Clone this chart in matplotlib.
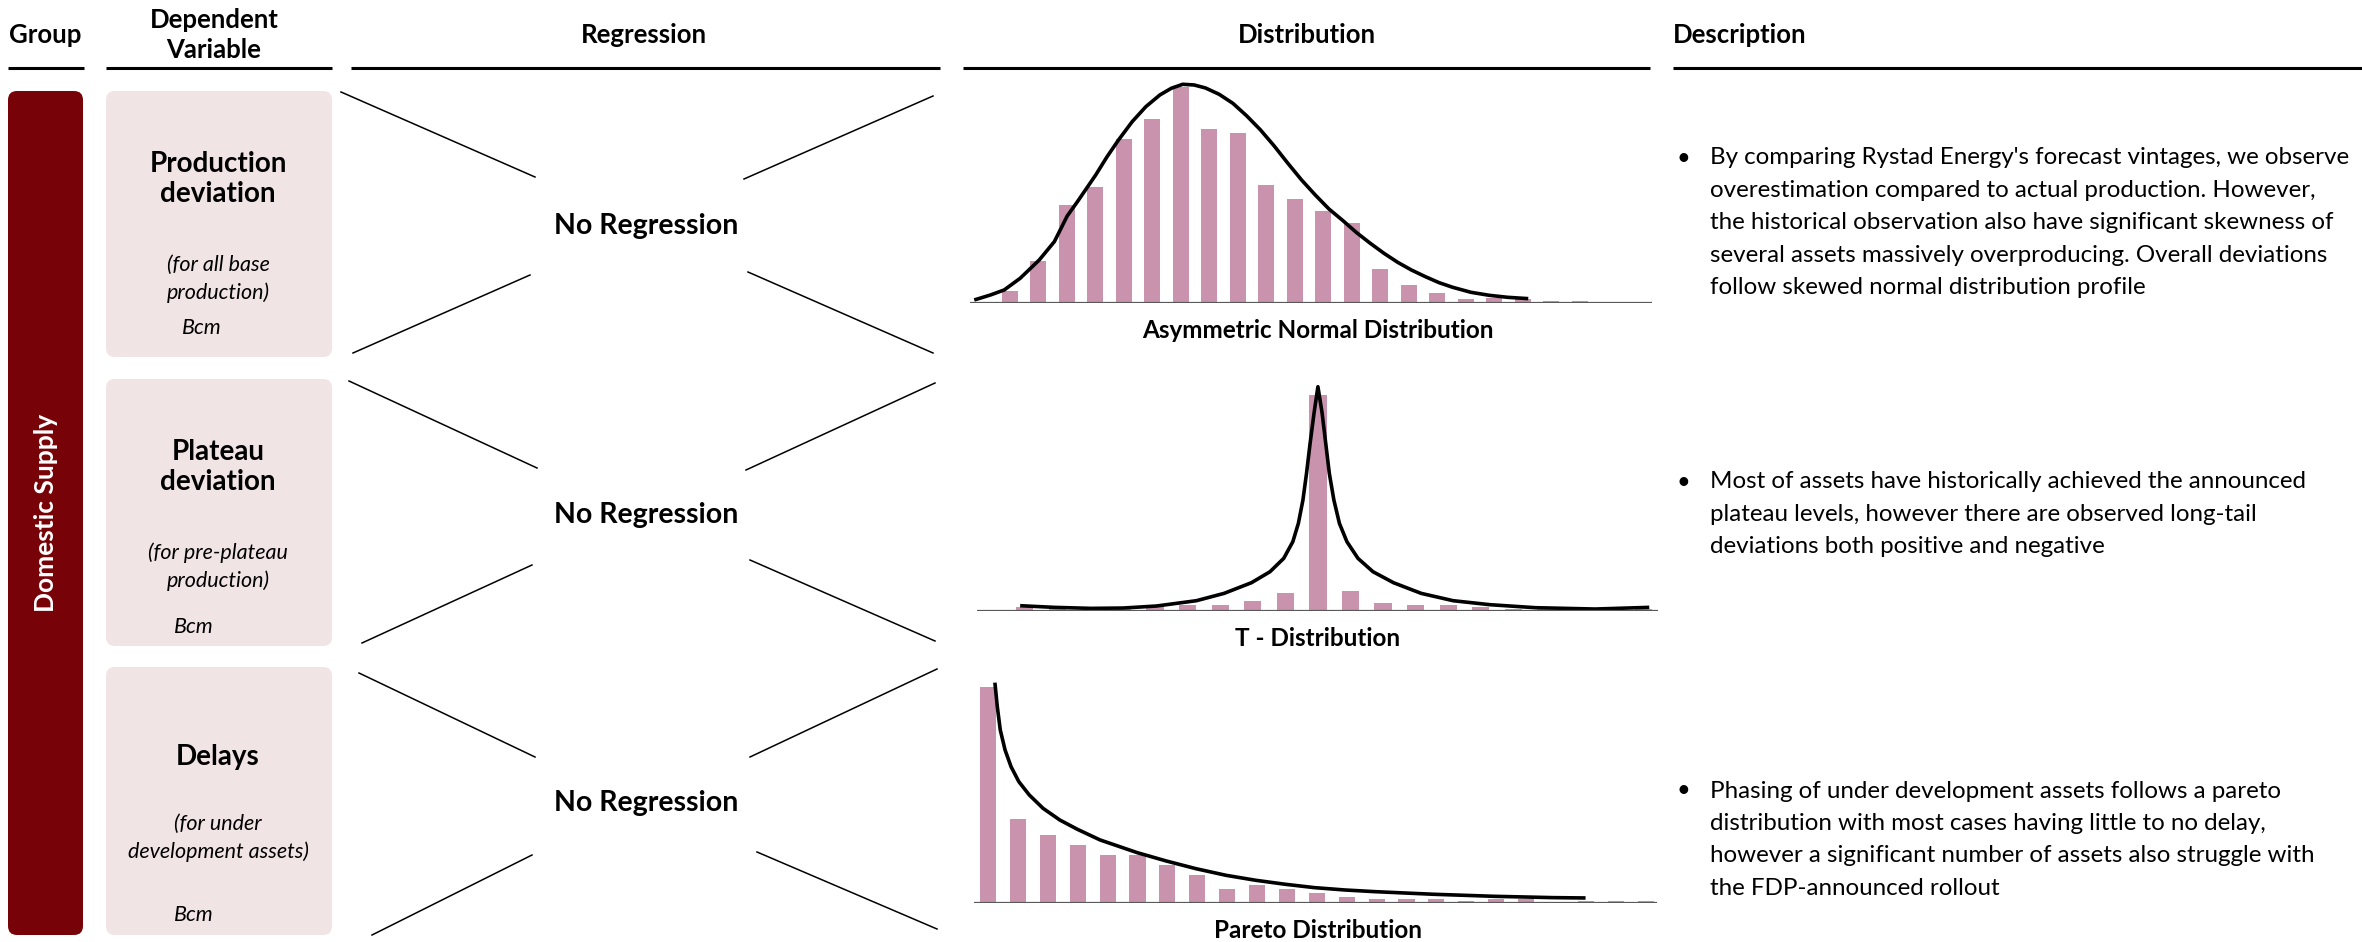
import matplotlib
matplotlib.use("Agg")
import matplotlib.pyplot as plt
from matplotlib.patches import FancyBboxPatch

plt.rcParams['font.family'] = ['Lato', 'DejaVu Sans']

# ---------------- data ----------------
headers = ["Group", "Dependent\nVariable", "Regression", "Distribution", "Description"]
group_label = "Domestic Supply"
row_titles = ["Production\ndeviation", "Plateau\ndeviation", "Delays"]
row_notes = ["(for all base\nproduction)", "(for pre-plateau\nproduction)", "(for under\ndevelopment assets)"]
row_units = ["Bcm", "Bcm", "Bcm"]
regression_labels = ["No Regression", "No Regression", "No Regression"]
dist_labels = ["Asymmetric Normal Distribution", "T - Distribution", "Pareto Distribution"]
desc_row1 = ["By comparing Rystad Energy's forecast vintages, we observe",
             "overestimation compared to actual production. However,",
             "the historical observation also have significant skewness of",
             "several assets massively overproducing. Overall deviations",
             "follow skewed normal distribution profile"]
desc_row2 = ["Most of assets have historically achieved the announced",
             "plateau levels, however there are observed long-tail",
             "deviations both positive and negative"]
desc_row3 = ["Phasing of under development assets follows a pareto",
             "distribution with most cases having little to no delay,",
             "however a significant number of assets also struggle with",
             "the FDP-announced rollout"]

# asymmetric normal: histogram bars and fitted curve (bin index, relative height)
asym_bars = [37, 127, 295, 349, 493, 553, 650, 523, 511, 355, 313, 277, 241, 103, 55, 31, 13, 15, 13, 7, 7]
asym_curve_x = [-1.24, -0.67, -0.19, 0.37, 1.04, 1.57, 2.02, 2.38, 2.70, 3.02, 3.42, 3.82, 4.30, 4.78,
                5.27, 5.67, 6.07, 6.47, 6.87, 7.35, 7.83, 8.32, 8.80, 9.28, 9.76, 10.24, 10.72, 11.20,
                11.69, 12.17, 12.65, 13.13, 13.61, 14.09, 14.58, 15.06, 15.54, 16.18, 16.82, 17.46, 18.19]
asym_curve_y = [10, 25, 40, 75, 130, 185, 262, 305, 345, 385, 440, 490, 545, 590,
                625, 645, 657, 655, 646, 627, 600, 562, 520, 472, 420, 370, 325, 283,
                248, 212, 180, 150, 123, 100, 80, 62, 48, 33, 24, 18, 14]

# t-distribution
t_bars = [11, 7, 7, 7, 17, 17, 17, 29, 53, 647, 59, 23, 17, 17, 11, 5, 7, 5, 5, 5]
t_curve_x = [-0.14, 0.91, 2.04, 3.02, 4.04, 5.27, 6.12, 6.96, 7.53, 7.95, 8.23, 8.40, 8.54, 8.65,
             8.76, 8.88, 9.00, 9.13, 9.24, 9.35, 9.49, 9.66, 9.89, 10.23, 10.69, 11.32, 12.17,
             13.15, 14.28, 15.68, 17.51, 19.17]
t_curve_y = [15, 10, 7, 8, 14, 30, 52, 84, 117, 157, 207, 262, 332, 412,
             502, 592, 672, 592, 502, 412, 332, 262, 207, 157, 117, 84, 52,
             30, 18, 9, 5, 10]

# pareto
pareto_bars = [650, 253, 205, 175, 145, 145, 115, 85, 43, 55, 43, 31, 19, 13, 13, 13, 7, 13, 13, 0, 7, 7, 7]
pareto_curve_x = [0.23, 0.31, 0.41, 0.57, 0.77, 1.03, 1.38, 1.84, 2.40, 2.99, 3.75, 4.99, 5.96, 6.95,
                  7.96, 8.96, 9.95, 10.92, 11.93, 12.93, 13.92, 14.93, 15.93, 16.92, 17.92, 18.91, 19.99]
pareto_curve_y = [662, 590, 520, 460, 410, 365, 325, 285, 250, 222, 190, 152, 127, 104,
                  84, 69, 57, 47, 40, 35, 31, 27, 24, 21, 19, 17, 16]

# ---------------- style / layout ----------------
W, H = 2362, 942
BAR_C = "#C993AE"
BOX_C = "#F1E4E5"
RED_C = "#770308"
AX_C = "#595959"

fig = plt.figure(figsize=(W / 100, H / 100), dpi=100)
ov = fig.add_axes([0, 0, 1, 1])
ov.set_xlim(0, W)
ov.set_ylim(H, 0)
ov.axis("off")

# headers
HS = 18.5
hdr_x = [45, 214, 644, 1307, 1673]
ov.text(hdr_x[0], 35, headers[0], ha="center", va="center", fontsize=HS, fontweight="bold")
ov.text(hdr_x[1], 35, headers[1], ha="center", va="center", fontsize=HS, fontweight="bold", linespacing=1.25)
ov.text(hdr_x[2], 35, headers[2], ha="center", va="center", fontsize=HS, fontweight="bold")
ov.text(hdr_x[3], 35, headers[3], ha="center", va="center", fontsize=HS, fontweight="bold")
ov.text(hdr_x[4], 35, headers[4], ha="left", va="center", fontsize=HS, fontweight="bold")
for x0, x1 in [(8, 84), (106, 332), (351, 940), (963, 1650), (1673, 2362)]:
    ov.plot([x0, x1], [68, 68], color="black", lw=2.2, solid_capstyle="butt")

# group bar
ov.add_patch(FancyBboxPatch((8, 91), 75, 844, boxstyle="round,pad=0,rounding_size=9",
                            fc=RED_C, ec="none"))
ov.text(46, 513, group_label, rotation=90, ha="center", va="center", color="white",
        fontsize=19, fontweight="bold")

row_top = [91, 379, 667]
row_bot = [357, 646, 935]
title_y = [179, 467, 757]
note_y = [279, 567, 838]
unit_y = [328, 627, 915]
reg_y = [226, 515, 803]
for i in range(3):
    ov.add_patch(FancyBboxPatch((106, row_top[i]), 226, row_bot[i] - row_top[i],
                                boxstyle="round,pad=0,rounding_size=9", fc=BOX_C, ec="none"))
    ov.text(218, title_y[i], row_titles[i], ha="center", va="center", fontsize=20,
            fontweight="bold", linespacing=1.2)
    ov.text(218, note_y[i], row_notes[i], ha="center", va="center", fontsize=15.5,
            style="italic", linespacing=1.45)
    ov.text(182 if i == 0 else 174, unit_y[i], row_units[i], ha="left", va="center",
            fontsize=15.5, style="italic")
    ov.text(646, reg_y[i], regression_labels[i], ha="center", va="center", fontsize=20.5,
            fontweight="bold")

# regression cross lines (per row: outer start -> inner end)
cross = [
    [((341, 92), (535, 177)), ((933, 96), (744, 179)), ((353, 353), (530, 275)), ((933, 353), (748, 272))],
    [((349, 381), (537, 468)), ((935, 383), (746, 470)), ((362, 643), (532, 565)), ((935, 641), (750, 560))],
    [((359, 673), (535, 757)), ((937, 669), (750, 757)), ((372, 935), (532, 855)), ((937, 929), (757, 852))],
]
for row in cross:
    for (xa, ya), (xb, yb) in row:
        ov.plot([xa, xb], [ya, yb], color="black", lw=1.1)


def add_dist(bars, cx, cy, width, x0px, x1px, ybase, xlim, label, label_y):
    top = ybase - 700 / 3.0
    ax = fig.add_axes([x0px / W, (H - ybase) / H, (x1px - x0px) / W, (ybase - top) / H])
    ax.patch.set_alpha(0)
    ax.bar(range(len(bars)), bars, width=width, color=BAR_C, zorder=2)
    ax.plot(cx, cy, color="black", lw=2.6, zorder=3, solid_capstyle="butt", solid_joinstyle="round")
    ax.axhline(0, color=AX_C, lw=1.6, zorder=4)
    ax.set_xlim(*xlim)
    ax.set_ylim(0, 700)
    ax.axis("off")
    ov.text(1318, label_y, label, ha="center", va="center", fontsize=17.5, fontweight="bold")


add_dist(asym_bars, asym_curve_x, asym_curve_y, 0.56, 969.8, 1651.7, 303.3, (-1.396, 22.52),
         dist_labels[0], 331)
add_dist(t_bars, t_curve_x, t_curve_y, 0.53, 976.6, 1657.7, 610.7, (-1.477, 19.43),
         dist_labels[1], 638)
add_dist(pareto_bars, pareto_curve_x, pareto_curve_y, 0.54, 974.3, 1657.0, 903.3, (-0.459, 22.38),
         dist_labels[2], 930)

# descriptions
desc_rows = [desc_row1, desc_row2, desc_row3]
desc_y0 = [158, 482, 791]
for lines, y0 in zip(desc_rows, desc_y0):
    ov.text(1683, y0, "\u2022", ha="center", va="center", fontsize=17)
    for j, line in enumerate(lines):
        ov.text(1710, y0 + j * 32.4, line, ha="left", va="center", fontsize=17.4)

fig.savefig("out.png", dpi=100)
